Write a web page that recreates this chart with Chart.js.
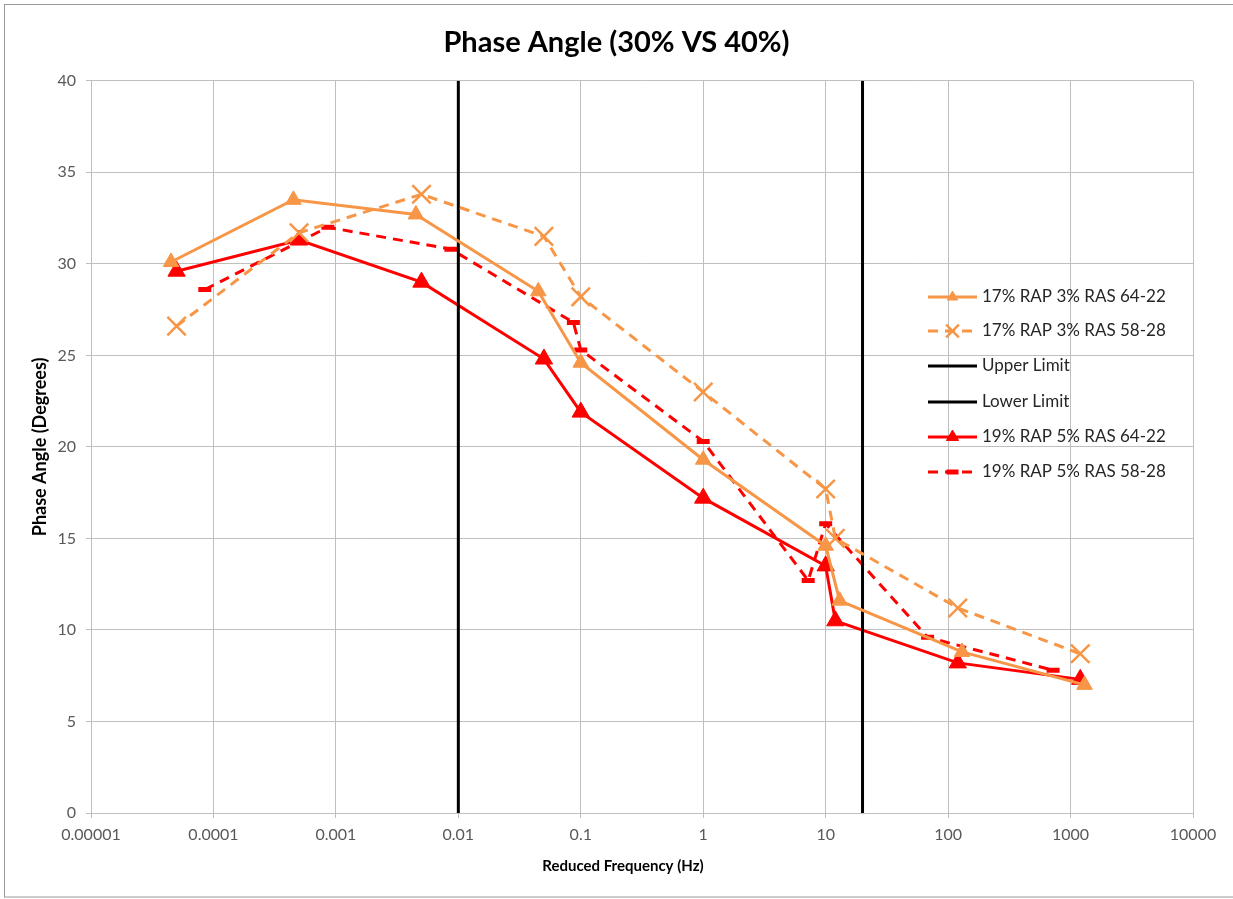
<!DOCTYPE html>
<html lang="en">
<head>
<meta charset="utf-8">
<title>Phase Angle (30% VS 40%)</title>
<script src="https://cdn.jsdelivr.net/npm/chart.js@4.4.1/dist/chart.umd.min.js"></script>
<style>
  body { margin: 0; background: #fff; }
  canvas { display: block; }
</style>
</head>
<body>
<canvas id="chart" width="1233" height="899"></canvas>
<script>
  // values
  const xTickValues = [1e-5, 1e-4, 1e-3, 1e-2, 1e-1, 1, 10, 100, 1000, 10000];
  const xTickLabels = ['0.00001', '0.0001', '0.001', '0.01', '0.1', '1', '10', '100', '1000', '10000'];

  const rap17Freq6422 = [4.5e-5, 4.5e-4, 4.5e-3, 0.045, 0.1, 1, 10, 13, 130, 1300];
  const rap17Phase6422 = [30.1, 33.5, 32.7, 28.5, 24.6, 19.3, 14.6, 11.6, 8.8, 7.0];

  const rap17Freq5828 = [5e-5, 5e-4, 5e-3, 0.05, 0.1, 1, 10, 12, 120, 1200];
  const rap17Phase5828 = [26.6, 31.7, 33.8, 31.5, 28.2, 23.0, 17.7, 15.0, 11.2, 8.7];

  const rap19Freq6422 = [5e-5, 5e-4, 5e-3, 0.05, 0.1, 1, 10, 12, 120, 1200];
  const rap19Phase6422 = [29.6, 31.3, 29.0, 24.8, 21.9, 17.2, 13.5, 10.5, 8.2, 7.3];

  const rap19Freq5828 = [8.5e-5, 8.6e-4, 8.7e-3, 0.087, 0.1, 1, 7.2, 10, 68, 720];
  const rap19Phase5828 = [28.6, 32.0, 30.8, 26.8, 25.3, 20.3, 12.7, 15.8, 9.6, 7.8];

  const upperLimit = 0.01;
  const lowerLimit = 20;

  const ORANGE = '#F79646';
  const RED = '#FF0000';

  function pts(xs, ys) {
    return xs.map((x, i) => ({ x: x, y: ys[i] }));
  }

  const datasets = [
    {
      label: '17% RAP 3% RAS 64-22',
      data: pts(rap17Freq6422, rap17Phase6422),
      borderColor: ORANGE, backgroundColor: ORANGE,
      borderWidth: 3, pointStyle: 'triangle', pointRadius: 9,
      pointBorderWidth: 1, legendRadius: 6
    },
    {
      label: '17% RAP 3% RAS 58-28',
      data: pts(rap17Freq5828, rap17Phase5828),
      borderColor: ORANGE, backgroundColor: ORANGE,
      borderWidth: 3, borderDash: [10, 7], pointStyle: 'crossRot', pointRadius: 13,
      pointBorderWidth: 2.5, legendRadius: 9
    },
    {
      label: 'Upper Limit',
      data: [{ x: upperLimit, y: 0 }, { x: upperLimit, y: 40 }],
      borderColor: '#000', backgroundColor: '#000',
      borderWidth: 3, pointRadius: 0
    },
    {
      label: 'Lower Limit',
      data: [{ x: lowerLimit, y: 0 }, { x: lowerLimit, y: 40 }],
      borderColor: '#000', backgroundColor: '#000',
      borderWidth: 3, pointRadius: 0
    },
    {
      label: '19% RAP 5% RAS 64-22',
      data: pts(rap19Freq6422, rap19Phase6422),
      borderColor: RED, backgroundColor: RED,
      borderWidth: 3, pointStyle: 'triangle', pointRadius: 10,
      pointBorderWidth: 1, legendRadius: 7
    },
    {
      label: '19% RAP 5% RAS 58-28',
      data: pts(rap19Freq5828, rap19Phase5828),
      borderColor: RED, backgroundColor: RED,
      borderWidth: 3, borderDash: [10, 7], pointStyle: 'line', pointRadius: 6.5,
      pointBorderWidth: 5, legendRadius: 6
    }
  ];

  // legend drawn inside the plot, like the spreadsheet one
  const insideLegend = {
    id: 'insideLegend',
    afterDraw(chart) {
      const ctx = chart.ctx;
      const x0 = 928, x1 = 977, tx = 982;
      const rows = [297, 331, 366, 402, 437, 472];
      ctx.save();
      chart.data.datasets.forEach((ds, i) => {
        const y = rows[i];
        ctx.strokeStyle = ds.borderColor;
        ctx.lineWidth = ds.borderWidth;
        ctx.setLineDash(ds.borderDash || []);
        ctx.beginPath();
        ctx.moveTo(x0, y);
        ctx.lineTo(x1, y);
        ctx.stroke();
        ctx.setLineDash([]);
        if (ds.pointRadius) {
          ctx.fillStyle = ds.backgroundColor;
          ctx.strokeStyle = ds.borderColor;
          ctx.lineWidth = ds.pointBorderWidth;
          Chart.helpers.drawPoint(ctx, {
            pointStyle: ds.pointStyle, rotation: 0,
            radius: ds.legendRadius, borderWidth: ds.pointBorderWidth
          }, (x0 + x1) / 2, y);
        }
        ctx.fillStyle = '#262626';
        ctx.font = '17px Lato';
        ctx.textBaseline = 'middle';
        ctx.fillText(ds.label, tx, y);
      });
      // x axis title sits a little left of the plot centre in the original
      ctx.fillStyle = '#000';
      ctx.font = 'bold 15px Lato';
      ctx.textAlign = 'center';
      ctx.fillText('Reduced Frequency (Hz)', 623, 866);
      ctx.restore();
    }
  };

  const frame = {
    id: 'frame',
    beforeDraw(chart) {
      const ctx = chart.ctx;
      ctx.save();
      ctx.fillStyle = '#fff';
      ctx.fillRect(0, 0, chart.width, chart.height);
      ctx.strokeStyle = '#9a9a9a';
      ctx.lineWidth = 1;
      ctx.strokeRect(4.5, 4.5, 1240, 892.5);
      ctx.restore();
    }
  };

  const ctx = document.getElementById('chart').getContext('2d');
  new Chart(ctx, {
    type: 'line',
    data: { datasets: datasets },
    plugins: [frame, insideLegend],
    options: {
      responsive: false,
      animation: false,
      layout: { padding: 0 },
      elements: { line: { tension: 0 } },
      plugins: {
        legend: { display: false },
        tooltip: { enabled: false },
        title: {
          display: true,
          text: 'Phase Angle (30% VS 40%)',
          color: '#000',
          font: { family: 'Lato', size: 29, weight: 'bold' },
          padding: { top: 25, bottom: 21 }
        }
      },
      scales: {
        x: {
          type: 'logarithmic',
          min: 1e-5,
          max: 1e4,
          afterBuildTicks(scale) {
            scale.ticks = xTickValues.map(v => ({ value: v }));
          },
          afterFit(scale) { scale.height = 86; },
          ticks: {
            autoSkip: false,
            maxRotation: 0,
            color: '#595959',
            font: { family: 'Lato', size: 16 },
            padding: 7,
            callback: (value, index) => xTickLabels[index]
          },
          grid: { color: '#bfbfbf', lineWidth: 1, tickLength: 5 },
          border: { color: '#bfbfbf' }
        },
        y: {
          min: 0,
          max: 40,
          afterFit(scale) { scale.width = 91; },
          ticks: {
            stepSize: 5,
            color: '#595959',
            font: { family: 'Lato', size: 16 },
            padding: 10
          },
          grid: { color: '#bfbfbf', lineWidth: 1, tickLength: 5 },
          border: { color: '#bfbfbf' },
          title: {
            display: true,
            text: 'Phase Angle (Degrees)',
            color: '#000',
            font: { family: 'Lato', size: 18, weight: 'bold' },
            padding: { top: 29, bottom: 0 }
          }
        },
        // empty right-hand box so the plot ends where the original does
        yRight: {
          position: 'right',
          min: 0,
          max: 40,
          afterFit(scale) { scale.width = 40; },
          ticks: { display: false },
          grid: { display: false, drawTicks: false },
          border: { display: false }
        }
      }
    }
  });
</script>
</body>
</html>
